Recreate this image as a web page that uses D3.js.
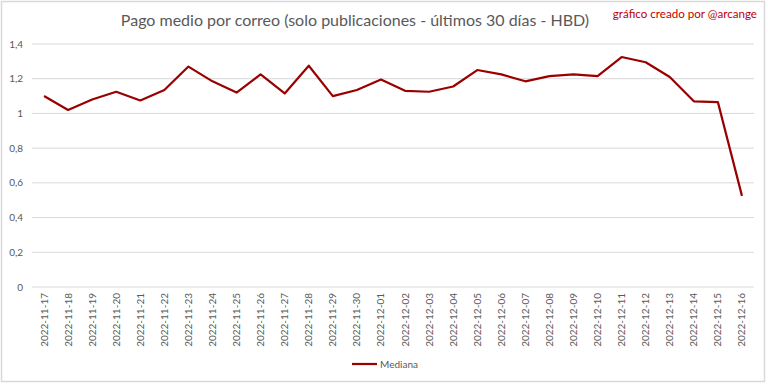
<!DOCTYPE html>
<html lang="es">
<head>
<meta charset="utf-8">
<title>Pago medio por correo</title>
<script src="https://d3js.org/d3.v7.min.js"></script>
<style>
  body { margin: 0; background: #fff; }
  text { font-family: Lato, "Liberation Sans", sans-serif; }
</style>
</head>
<body>
<div id="chart"></div>
<script>

var dates = ["2022-11-17", "2022-11-18", "2022-11-19", "2022-11-20", "2022-11-21",
  "2022-11-22", "2022-11-23", "2022-11-24", "2022-11-25", "2022-11-26",
  "2022-11-27", "2022-11-28", "2022-11-29", "2022-11-30", "2022-12-01",
  "2022-12-02", "2022-12-03", "2022-12-04", "2022-12-05", "2022-12-06",
  "2022-12-07", "2022-12-08", "2022-12-09", "2022-12-10", "2022-12-11",
  "2022-12-12", "2022-12-13", "2022-12-14", "2022-12-15", "2022-12-16"];

var mediana = [1.10, 1.02, 1.08, 1.125, 1.075, 1.135, 1.27, 1.185, 1.12, 1.225,
  1.115, 1.275, 1.10, 1.135, 1.195, 1.13, 1.125, 1.155, 1.25, 1.225,
  1.185, 1.215, 1.225, 1.215, 1.325, 1.295, 1.21, 1.07, 1.065, 0.525];

var yTicks = [0, 0.2, 0.4, 0.6, 0.8, 1, 1.2, 1.4];

var W = 768, H = 384;
var margin = { top: 44, right: 14, bottom: 97, left: 32 };

var svg = d3.select("#chart").append("svg")
  .attr("width", W).attr("height", H);

// outer chart border
svg.append("rect")
  .attr("x", 1.5).attr("y", 1.5)
  .attr("width", W - 5).attr("height", H - 4)
  .attr("fill", "#fff")
  .attr("stroke", "#d9d9d9").attr("stroke-width", 1.5);

var x = d3.scaleBand()
  .domain(dates)
  .range([margin.left, W - margin.right]);

var y = d3.scaleLinear()
  .domain([0, 1.4])
  .range([H - margin.bottom, margin.top]);

// grid lines
svg.append("g")
  .selectAll("line")
  .data(yTicks)
  .enter().append("line")
  .attr("x1", margin.left).attr("x2", W - margin.right)
  .attr("y1", function (d) { return y(d); })
  .attr("y2", function (d) { return y(d); })
  .attr("stroke", "#d9d9d9").attr("stroke-width", 1);

// y labels
var fmt = function (d) { return d3.format("")(d).replace(".", ","); };
svg.append("g")
  .selectAll("text")
  .data(yTicks)
  .enter().append("text")
  .attr("x", 23)
  .attr("y", function (d) { return y(d); })
  .attr("dy", "0.35em")
  .attr("text-anchor", "end")
  .style("font-size", "10px")
  .style("fill", "#595959")
  .text(fmt);

// x labels, rotated
svg.append("g")
  .selectAll("text")
  .data(dates)
  .enter().append("text")
  .attr("transform", function (d) {
    return "translate(" + (x(d) + x.bandwidth() / 2) + "," + (y(0) + 6) + ") rotate(-90)";
  })
  .attr("dy", "0.35em")
  .attr("text-anchor", "end")
  .style("font-size", "10px")
  .style("fill", "#595959")
  .text(function (d) { return d; });

var line = d3.line()
  .x(function (d, i) { return x(dates[i]) + x.bandwidth() / 2; })
  .y(function (d) { return y(d); });

svg.append("path")
  .datum(mediana)
  .attr("d", line)
  .attr("fill", "none")
  .attr("stroke", "#990000")
  .attr("stroke-width", 2.2)
  .attr("stroke-linejoin", "round");

// title
svg.append("text")
  .attr("x", 355).attr("y", 26)
  .attr("text-anchor", "middle")
  .style("font-size", "16px")
  .style("fill", "#595959")
  .text("Pago medio por correo (solo publicaciones - últimos 30 días - HBD)");

svg.append("text")
  .attr("x", 757).attr("y", 18)
  .attr("text-anchor", "end")
  .style("font-size", "11.6px")
  .style("fill", "#c00000")
  .text("gráfico creado por @arcange");

// legend
svg.append("line")
  .attr("x1", 352).attr("x2", 377)
  .attr("y1", 364).attr("y2", 364)
  .attr("stroke", "#990000").attr("stroke-width", 2.2);
svg.append("text")
  .attr("x", 380).attr("y", 364)
  .attr("dy", "0.35em")
  .style("font-size", "10px")
  .style("fill", "#595959")
  .text("Mediana");

</script>
</body>
</html>
